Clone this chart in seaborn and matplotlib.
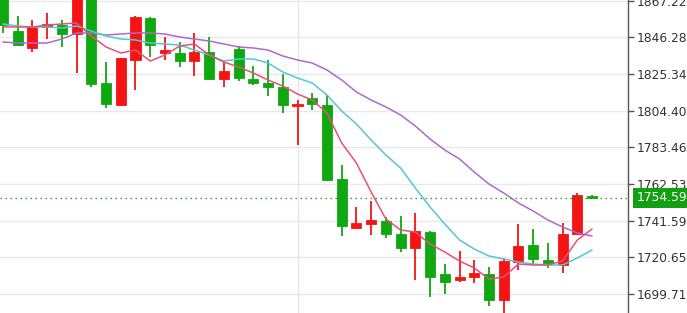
import numpy as np
import pandas as pd
import matplotlib
matplotlib.use("Agg")
import matplotlib.pyplot as plt
import matplotlib.transforms as mtransforms
import seaborn as sns

# ---------------- data ----------------
opens = [1872.00, 1850.04, 1840.33, 1851.98, 1853.46, 1847.98, 1876.00, 1820.01, 1807.45, 1833.31,
         1857.12, 1837.13, 1837.48, 1832.74, 1838.05, 1822.46, 1839.42, 1822.46, 1820.01, 1818.07,
         1807.33, 1811.44, 1807.62, 1765.37, 1737.40, 1739.68, 1741.39, 1733.97, 1725.98, 1735.11,
         1711.14, 1707.71, 1709.43, 1711.14, 1696.29, 1717.99, 1727.69, 1719.13, 1716.27, 1733.97,
         1755.95]
closes = [1853.29, 1841.87, 1852.32, 1853.86, 1848.15, 1872.00, 1819.61, 1808.19, 1834.28, 1857.69,
          1841.87, 1839.02, 1832.91, 1838.05, 1822.46, 1827.20, 1822.86, 1820.01, 1817.72, 1807.45,
          1808.02, 1808.19, 1764.80, 1738.54, 1740.25, 1741.96, 1733.97, 1725.98, 1735.68, 1709.43,
          1706.57, 1709.43, 1711.71, 1696.29, 1718.56, 1727.12, 1719.70, 1717.42, 1733.97, 1756.24,
          1754.59]
highs = [1874.00, 1858.43, 1856.14, 1860.31, 1856.14, 1874.00, 1878.00, 1832.34, 1834.50, 1858.43,
         1858.03, 1846.61, 1843.76, 1848.55, 1846.61, 1832.34, 1841.30, 1829.88, 1833.31, 1825.32,
         1810.47, 1814.47, 1813.33, 1773.36, 1749.39, 1752.81, 1743.67, 1744.24, 1745.96, 1735.68,
         1716.84, 1724.27, 1719.13, 1715.13, 1720.27, 1739.68, 1736.82, 1728.83, 1740.25, 1757.38,
         1756.30]
lows = [1848.72, 1841.30, 1837.70, 1845.30, 1840.90, 1825.72, 1818.07, 1805.73, 1807.20, 1816.18,
        1834.85, 1833.31, 1829.48, 1824.17, 1821.89, 1817.72, 1821.32, 1818.86, 1812.76, 1803.22,
        1784.78, 1804.76, 1764.20, 1732.83, 1736.80, 1733.40, 1731.69, 1723.70, 1707.71, 1698.00,
        1699.72, 1706.57, 1706.00, 1692.86, 1686.02, 1713.42, 1716.27, 1714.56, 1711.71, 1733.50,
        1754.30]

ma_fast = [1852.15, 1852.15, 1852.15, 1853.29, 1853.86, 1854.43, 1847.01, 1840.73, 1837.30, 1839.01,
           1832.74, 1836.16, 1841.30, 1842.44, 1836.16, 1832.16, 1829.31, 1825.88, 1821.89, 1818.46,
           1813.90, 1810.47, 1803.05, 1785.92, 1774.50, 1757.95, 1742.53, 1736.25, 1735.11, 1728.26,
           1723.69, 1718.56, 1714.56, 1708.28, 1709.42, 1716.84, 1716.27, 1716.27, 1718.56, 1730.54,
           1736.82]
ma_mid = [1853.86, 1852.72, 1852.15, 1852.15, 1851.57, 1852.72, 1849.86, 1847.01, 1845.29, 1844.72,
          1843.01, 1842.44, 1841.87, 1839.01, 1836.16, 1832.74, 1833.88, 1833.88, 1831.59, 1826.46,
          1823.03, 1820.18, 1813.32, 1804.19, 1796.77, 1787.63, 1779.07, 1771.65, 1760.23, 1749.38,
          1739.68, 1730.54, 1725.41, 1721.41, 1719.70, 1717.98, 1716.84, 1716.27, 1716.27, 1720.27,
          1724.83]
ma_slow = [1843.58, 1843.01, 1843.01, 1843.01, 1845.29, 1848.72, 1848.72, 1847.58, 1848.15, 1848.72,
           1848.72, 1848.15, 1846.44, 1845.29, 1844.15, 1842.44, 1840.73, 1840.16, 1839.01, 1835.59,
           1833.31, 1831.59, 1827.60, 1821.89, 1815.04, 1810.47, 1806.47, 1801.91, 1795.63, 1788.20,
           1781.92, 1776.79, 1769.37, 1762.51, 1757.38, 1751.67, 1747.10, 1741.96, 1737.97, 1734.54,
           1732.83]

y_ticks = [1699.71, 1720.65, 1741.59, 1762.53, 1783.46, 1804.40, 1825.34, 1846.28, 1867.22]
last_price = 1754.59
session_break = 20

# ---------------- styling ----------------
UP = "#f51414"
DOWN = "#10a810"
C_FAST = "#e8507a"
C_MID = "#52c8d4"
C_SLOW = "#b068cc"
GRID = "#e6e8ec"

sns.set_theme(style="white")
plt.rcParams["font.family"] = ["DejaVu Sans"]

n = len(opens)
idx = np.arange(n)
df = pd.DataFrame({"i": idx, "open": opens, "close": closes, "high": highs, "low": lows,
                   "fast": ma_fast, "mid": ma_mid, "slow": ma_slow})
up = df["close"] >= df["open"]
colors = np.where(up, UP, DOWN)

fig = plt.figure(figsize=(6.87, 3.13), dpi=100)
ax = fig.add_axes([0.0, 0.0, 628 / 687, 1.0])

# grid
ax.set_yticks(y_ticks)
ax.set_yticklabels([f"{v:.2f}" for v in y_ticks])
ax.set_xticks([session_break])
ax.set_xticklabels([])
ax.grid(True, color=GRID, linewidth=1.0)
ax.set_axisbelow(True)

# wicks
ax.vlines(df["i"], df["low"], df["high"], colors=colors, linewidth=1.3, zorder=2)
# bodies
body_bottom = np.minimum(df["open"], df["close"])
body_h = np.maximum(np.abs(df["close"] - df["open"]), 0.8)
ax.bar(df["i"], body_h, bottom=body_bottom, width=0.68, color=colors, edgecolor=colors,
       linewidth=0.6, zorder=3)

# moving averages
sns.lineplot(data=df, x="i", y="slow", color=C_SLOW, linewidth=1.1, ax=ax, zorder=4)
sns.lineplot(data=df, x="i", y="mid", color=C_MID, linewidth=1.1, ax=ax, zorder=4)
sns.lineplot(data=df, x="i", y="fast", color=C_FAST, linewidth=1.1, ax=ax, zorder=4)

# last price line
ax.axhline(last_price, color="#1a9a1a", linewidth=1.0, linestyle=(0, (1, 2.6)), zorder=5)

ax.set_xlim(-0.2, 42.44)
ax.set_ylim(1688.87, 1867.56)
ax.set_xlabel("")
ax.set_ylabel("")

for s in ["top", "left", "bottom"]:
    ax.spines[s].set_visible(False)
ax.spines["right"].set_color("#555555")
ax.spines["right"].set_linewidth(1.0)

ax.yaxis.tick_right()
ax.tick_params(axis="y", which="both", right=True, length=4, width=1, color="#555555",
               pad=2.5, labelsize=8.8, labelcolor="#333333")
ax.tick_params(axis="x", length=0)

# price label box
trans = mtransforms.blended_transform_factory(ax.transAxes, ax.transData)
ax.text(1.0 + 8.5 / 628, last_price, f"{last_price:.2f}", transform=trans, ha="left", va="center",
        fontsize=8.8, color="white", clip_on=False, zorder=10,
        bbox=dict(boxstyle="square,pad=0.3", facecolor="#12a012", edgecolor="none"))

fig.savefig("out.png", dpi=100)
